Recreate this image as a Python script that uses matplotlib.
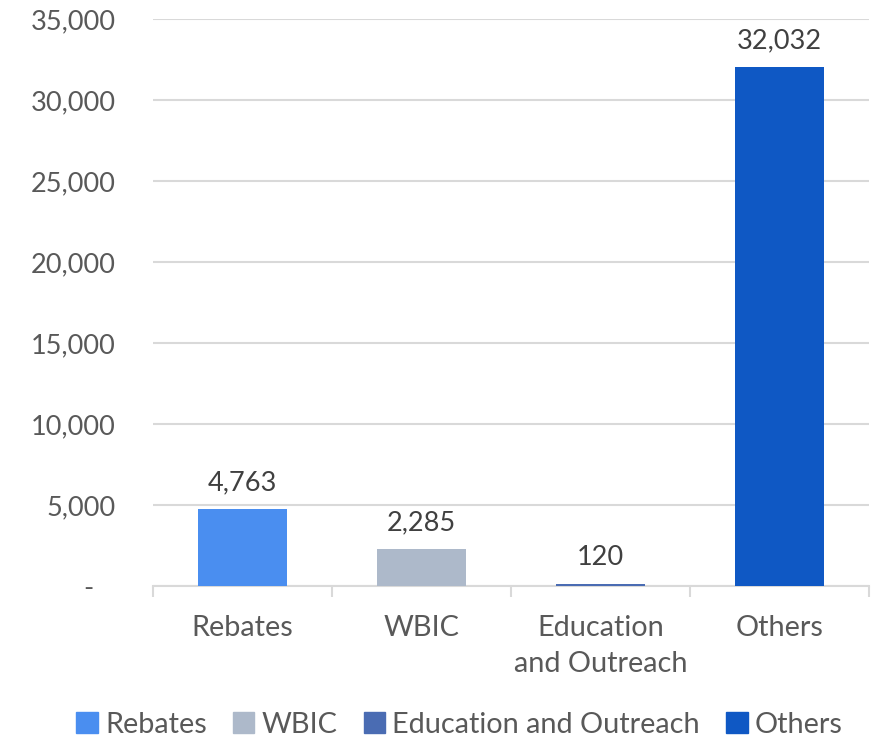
import matplotlib.pyplot as plt
from matplotlib.ticker import FuncFormatter, FixedLocator
from matplotlib.patches import Patch
import numpy as np

plt.rcParams['font.family'] = ['Lato', 'DejaVu Sans']

# Data
categories = ['Rebates', 'WBIC', 'Education\nand Outreach', 'Others']
legend_names = ['Rebates', 'WBIC', 'Education and Outreach', 'Others']
values = [4763, 2285, 120, 32032]
colors = ['#4a8ef0', '#adb9ca', '#4a6cb3', '#0f58c4']

grid_col = '#d9d9d9'
tick_col = '#595959'
label_col = '#404040'
fs_num = 19.5
fs_txt = 20.8

fig = plt.figure(figsize=(8.82, 7.38), dpi=100)
ax = fig.add_axes([0.1735, 0.206, 0.8115, 0.768])

x = np.arange(len(categories))
ax.bar(x, values, width=0.5, color=colors, zorder=3)

for xi, v in zip(x, values):
    ax.annotate(f'{v:,}', (xi, v), xytext=(0, 10), textcoords='offset points',
                ha='center', va='bottom', fontsize=fs_num, color=label_col)

ax.set_xlim(-0.5, len(categories) - 0.5)
ax.set_ylim(0, 35000)
ax.set_yticks(np.arange(0, 35001, 5000))
ax.yaxis.set_major_formatter(FuncFormatter(lambda v, p: '-   ' if v == 0 else f'{v:,.0f}'))
ax.grid(axis='y', color=grid_col, linewidth=1.5, zorder=0)

ax.set_xticks(x)
ax.set_xticklabels(categories, fontsize=fs_txt, color=tick_col, linespacing=1.45)
ax.xaxis.set_minor_locator(FixedLocator(np.arange(-0.5, len(categories), 1.0)))
ax.tick_params(axis='x', which='major', length=0, pad=21)
ax.tick_params(axis='x', which='minor', length=8, width=1.5, color=grid_col, direction='out')
ax.tick_params(axis='y', length=0, pad=27, labelsize=fs_num, labelcolor=tick_col)

for side in ['left', 'right', 'top']:
    ax.spines[side].set_visible(False)
ax.spines['bottom'].set_color(grid_col)
ax.spines['bottom'].set_linewidth(1.5)

handles = [Patch(color=c) for c in colors]
fig.legend(handles, legend_names, loc='lower center', bbox_to_anchor=(0.521, -0.035),
           ncol=4, frameon=False, fontsize=fs_txt, labelcolor=tick_col,
           handlelength=0.75, handleheight=0.75, handletextpad=0.25, columnspacing=0.9)

fig.savefig('out.png', dpi=100)
